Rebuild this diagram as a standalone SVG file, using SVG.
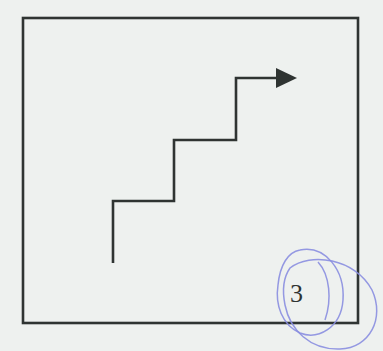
<svg xmlns="http://www.w3.org/2000/svg" width="383" height="351" viewBox="0 0 383 351">
<style>
.ink{fill:none;stroke:#2f3432;stroke-width:2.6}
.pen{fill:none;stroke:#8a8ee0;stroke-width:1.5;opacity:0.9}
.num{font-family:"Liberation Serif",serif;font-size:26px;fill:#2f3432}
</style>
<rect width="383" height="351" fill="#eef1ef"/>
<g id="frame"><rect class="ink" x="23" y="18" width="335" height="305"/></g>
<g id="connectors">
<polyline class="ink" points="113,263 113,201 174,201 174,140 236,140 236,78 278,78"/>
<path d="M276,68 L297,78 L276,88 Z" fill="#2f3432"/>
</g>
<g id="stamp">
<path class="pen" d="M300,250 C325,245 345,270 343,300 C341,328 318,340 300,333 C282,325 275,305 278,285 C280,265 288,252 300,250 Z"/>
<path class="pen" d="M290,268 C310,252 355,258 372,290 C385,318 370,348 340,349 C310,350 290,330 285,305 C282,290 283,278 290,268 Z"/>
<path class="pen" d="M318,262 C330,275 332,300 325,320"/>
<text class="num" x="290" y="302">3</text>
</g>
</svg>
